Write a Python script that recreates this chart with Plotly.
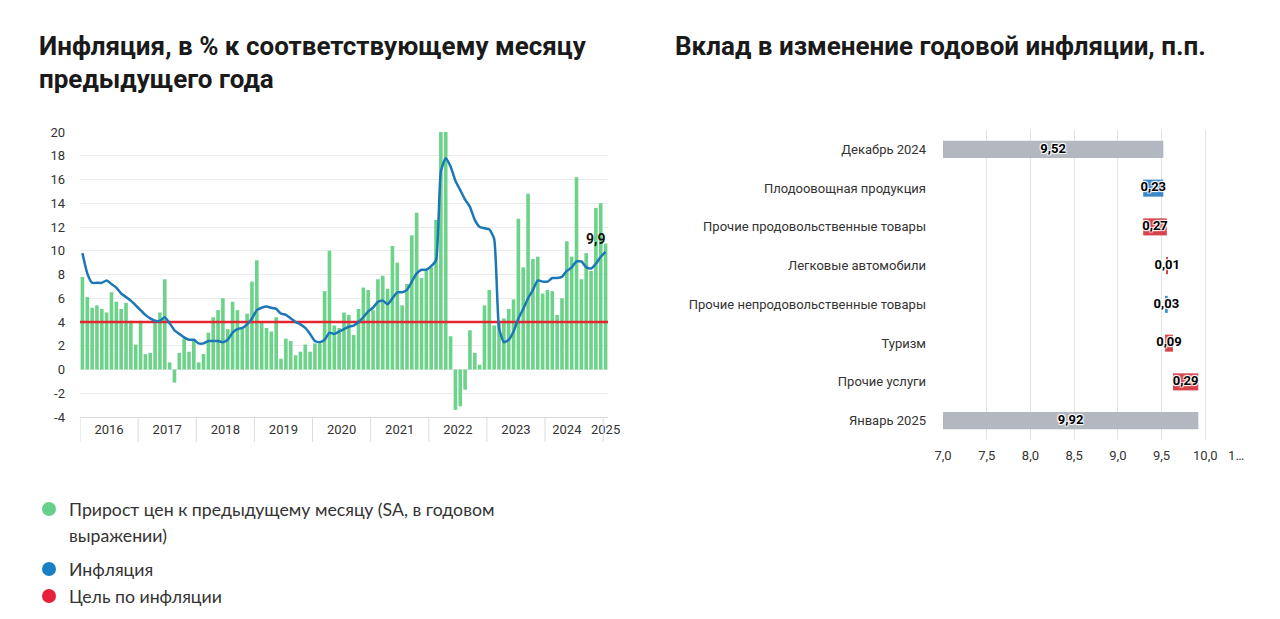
import plotly.graph_objects as go

# ---------------- Data: left chart ----------------
YEARS = ["2016", "2017", "2018", "2019", "2020", "2021", "2022", "2023", "2024", "2025"]

# Month-on-month price growth (SA, annualised), %, Jan 2016 .. Jan 2025
MOM_SAAR = [
    7.8, 6.1, 5.2, 5.4, 5.1, 4.8, 6.5, 5.7, 5.1, 5.6, 4.1, 2.1,      # 2016
    4.1, 1.3, 1.4, 4.1, 4.8, 7.6, 0.6, -1.1, 1.4, 2.6, 1.5, 2.5,     # 2017
    0.6, 1.3, 3.1, 4.4, 5.0, 6.0, 3.4, 5.7, 5.0, 3.5, 4.7, 7.4,      # 2018
    9.2, 4.0, 3.5, 3.2, 4.4, 0.9, 2.6, 2.4, 1.2, 1.5, 2.1, 1.5,      # 2019
    2.2, 2.2, 6.6, 10.0, 3.7, 3.5, 4.8, 4.6, 2.9, 5.1, 6.9, 6.7,     # 2020
    5.0, 7.6, 7.9, 6.8, 10.4, 9.0, 5.4, 7.2, 11.3, 13.2, 7.7, 8.3,   # 2021
    8.6, 12.6, 20.0, 20.0, 2.8, -3.4, -3.1, -1.7, 3.3, 1.4, 0.4, 5.4,  # 2022
    6.7, 3.7, 4.1, 4.3, 5.1, 5.9, 12.7, 8.6, 14.8, 9.3, 9.5, 6.4,    # 2023
    6.7, 6.6, 4.6, 6.0, 10.8, 9.5, 16.2, 7.6, 9.8, 8.3, 13.6, 14.0,  # 2024
    10.6,                                                            # 2025
]

# Annual inflation, %
INFLATION = [
    9.8, 8.1, 7.3, 7.3, 7.3, 7.5, 7.2, 6.9, 6.4, 6.1, 5.8, 5.4,
    5.0, 4.6, 4.3, 4.1, 4.1, 4.4, 3.9, 3.3, 3.0, 2.7, 2.5, 2.5,
    2.2, 2.2, 2.4, 2.4, 2.4, 2.3, 2.5, 3.1, 3.4, 3.5, 3.8, 4.3,
    5.0, 5.2, 5.3, 5.2, 5.1, 4.7, 4.6, 4.3, 4.0, 3.8, 3.5, 3.0,
    2.4, 2.3, 2.5, 3.1, 3.0, 3.2, 3.4, 3.6, 3.7, 4.0, 4.4, 4.9,
    5.2, 5.7, 5.8, 5.5, 6.0, 6.5, 6.5, 6.7, 7.4, 8.1, 8.4, 8.4,
    8.7, 9.2, 16.7, 17.8, 17.1, 15.9, 15.1, 14.3, 13.7, 12.6, 12.0, 11.9,
    11.8, 11.0, 3.5, 2.3, 2.5, 3.2, 4.3, 5.1, 6.0, 6.7, 7.5, 7.4,
    7.4, 7.7, 7.7, 7.8, 8.3, 8.6, 9.1, 9.1, 8.6, 8.5, 8.9, 9.5,
    9.9,
]

TARGET = 4.0
Y_TICKS = [-4, -2, 0, 2, 4, 6, 8, 10, 12, 14, 16, 18, 20]
Y_TICKTEXT = ["-4", "-2", "0", "2", "4", "6", "8", "10", "12", "14", "16", "18", "20"]

LEGEND_LABELS = [
    "Прирост цен к предыдущему месяцу (SA, в годовом",
    "выражении)",
    "Инфляция",
    "Цель по инфляции",
]

# ---------------- Data: right chart ----------------
CONTRIB_CATS = [
    "Декабрь 2024",
    "Плодоовощная продукция",
    "Прочие продовольственные товары",
    "Легковые автомобили",
    "Прочие непродовольственные товары",
    "Туризм",
    "Прочие услуги",
    "Январь 2025",
]
CONTRIB_VALUES = [9.52, -0.23, 0.27, 0.01, -0.03, 0.09, 0.29, 9.92]
CONTRIB_KIND = ["total", "rel", "rel", "rel", "rel", "rel", "rel", "total"]
X2_TICKS = [7.0, 7.5, 8.0, 8.5, 9.0, 9.5, 10.0, 10.5]
X2_TICKTEXT = ["7,0", "7,5", "8,0", "8,5", "9,0", "9,5", "10,0", "1…" + "\u00a0" * 8]

# ---------------- Styling ----------------
W, H = 1280, 619
OFF = 8  # page body margin offset
GREEN = "#6dd38b"
BLUE_LINE = "#1b77b6"
RED_LINE = "#e3262f"
GRAY_BAR = "#b3b7bf"
RED_BAR = "#d8434b"
BLUE_BAR = "#3a87c8"
GRID = "#ebebeb"
TXT = "#333333"
FONT = "Roboto, 'Noto Sans', sans-serif"


def px_x(x):
    return (x - OFF) / W


def px_y(y):
    return 1 - (y - OFF) / H


fig = go.Figure()

n = len(MOM_SAAR)
idx = list(range(n))

fig.add_trace(go.Bar(
    x=idx, y=MOM_SAAR, marker_color=GREEN, marker_line_width=0,
    xaxis="x", yaxis="y", showlegend=False, hoverinfo="skip",
))
fig.add_trace(go.Scatter(
    x=[-0.5] + idx[1:-1] + [n - 0.5], y=[TARGET] * n, mode="lines",
    line=dict(color=RED_LINE, width=2.5), xaxis="x", yaxis="y",
    showlegend=False, hoverinfo="skip",
))
fig.add_trace(go.Scatter(
    x=idx, y=INFLATION, mode="lines",
    line=dict(color=BLUE_LINE, width=2.5, shape="spline", smoothing=0.5),
    xaxis="x", yaxis="y", showlegend=False, hoverinfo="skip",
))

# year tick positions
year_centers = [12 * k + 5.5 for k in range(len(YEARS) - 1)] + [n - 1]
year_centers[-2] = 12 * (len(YEARS) - 2) + 4.0
boundaries = [12 * k - 0.5 for k in range(len(YEARS))]

# last value label
fig.add_annotation(
    x=n - 1, y=INFLATION[-1], xref="x", yref="y",
    text="<b>" + f"{INFLATION[-1]:.1f}".replace(".", ",") + "</b>",
    showarrow=False, xanchor="right", yanchor="bottom", xshift=2, yshift=3,
    font=dict(family=FONT, size=14, color="#111"),
)

# year separator lines below left plot
for b in boundaries:
    fig.add_shape(type="line", xref="x", yref="paper", x0=b, x1=b,
                  y0=px_y(417), y1=px_y(442), line=dict(color="#dcdcdc", width=1))

# ---------------- Right chart ----------------
AXIS_MIN = X2_TICKS[0]
bases, lengths, colors, mids = [], [], [], []
running = 0.0
for v, k in zip(CONTRIB_VALUES, CONTRIB_KIND):
    if k == "total":
        bases.append(0.0)
        lengths.append(v)
        colors.append(GRAY_BAR)
        mids.append((AXIS_MIN + v) / 2)
        running = v
    else:
        start = running
        end = running + v
        bases.append(min(start, end))
        lengths.append(abs(v))
        colors.append(RED_BAR if v > 0 else BLUE_BAR)
        mids.append((start + end) / 2)
        running = end

fig.add_trace(go.Bar(
    y=CONTRIB_CATS, x=lengths, base=bases, orientation="h",
    marker=dict(color=colors, line_width=0), width=0.44,
    xaxis="x2", yaxis="y2", showlegend=False, hoverinfo="skip",
))
fig.add_trace(go.Scatter(
    y=CONTRIB_CATS, x=mids, mode="text",
    text=[f"{abs(v):.2f}".replace(".", ",") for v in CONTRIB_VALUES],
    textposition="middle center",
    textfont=dict(family=FONT, size=13, color="#000", weight="bold",
                  shadow="1px 1px 1px #fff, -1px -1px 1px #fff, 1px -1px 1px #fff, -1px 1px 1px #fff"),
    xaxis="x2", yaxis="y2", showlegend=False, hoverinfo="skip",
))

# ---------------- Titles ----------------
TITLE_FONT = dict(family="Roboto, 'Noto Sans', sans-serif", size=26, color="#1a1a1a")
for txt, x, y in [
    ("<b>Инфляция, в % к соответствующему месяцу</b>", 37, 46),
    ("<b>предыдущего года</b>", 37, 79),
    ("<b>Вклад в изменение годовой инфляции, п.п.</b>", 673, 46),
]:
    fig.add_annotation(x=px_x(x), y=px_y(y), xref="paper", yref="paper", text=txt,
                       showarrow=False, xanchor="left", yanchor="middle", font=TITLE_FONT)

# ---------------- Legend (manual) ----------------
LEG_FONT = dict(family="Lato, 'Open Sans', sans-serif", size=17.7, color=TXT)
legend_rows = [(GREEN, LEGEND_LABELS[0], 509), (None, LEGEND_LABELS[1], 535),
               (BLUE_LINE, LEGEND_LABELS[2], 569), (RED_LINE, LEGEND_LABELS[3], 596)]
legend_dot_colors = {509: "#66d08a", 569: "#1a7fc4", 596: "#e8213a"}
for col, txt, y in legend_rows:
    if col is not None:
        c = legend_dot_colors[y]
        fig.add_shape(type="circle", xref="paper", yref="paper",
                      x0=px_x(42), x1=px_x(56), y0=px_y(y + 7), y1=px_y(y - 7),
                      fillcolor=c, line_width=0)
    fig.add_annotation(x=px_x(67), y=px_y(y), xref="paper", yref="paper", text=txt,
                       showarrow=False, xanchor="left", yanchor="middle", font=LEG_FONT)

# ---------------- Layout ----------------
AX_FONT = dict(family=FONT, size=13, color=TXT)
fig.update_layout(
    width=W, height=H, margin=dict(l=0, r=0, t=0, b=0, autoexpand=False),
    paper_bgcolor="white", plot_bgcolor="white",
    bargap=0.25,
    xaxis=dict(domain=[px_x(80), px_x(608)], range=[-0.5, n - 0.5],
               tickvals=year_centers, ticktext=YEARS, ticks="", showgrid=False,
               zeroline=False, showline=True, linecolor="#dcdcdc", linewidth=1,
               tickfont=AX_FONT, ticklabelstandoff=0, fixedrange=True, automargin=False),
    yaxis=dict(domain=[px_y(417), px_y(132)], range=[-4, 20], tickvals=Y_TICKS,
               ticktext=Y_TICKTEXT,
               showgrid=True, gridcolor=GRID, gridwidth=1, zeroline=False,
               tickfont=AX_FONT, ticklabelstandoff=14, fixedrange=True, automargin=False),
    xaxis2=dict(domain=[px_x(943), px_x(1249)], range=[7.0, 10.5], anchor="y2",
                tickvals=X2_TICKS, ticktext=X2_TICKTEXT, showgrid=True,
                gridcolor="#e3e3e3", zeroline=False, showline=False,
                tickfont=AX_FONT, ticklabelstandoff=6, fixedrange=True, automargin=False),
    yaxis2=dict(domain=[px_y(440), px_y(130)], anchor="x2", autorange="reversed",
                type="category", showgrid=False, zeroline=False, showline=False,
                tickfont=AX_FONT, ticklabelstandoff=16, fixedrange=True, automargin=False),
)

fig.write_html("out.html")
